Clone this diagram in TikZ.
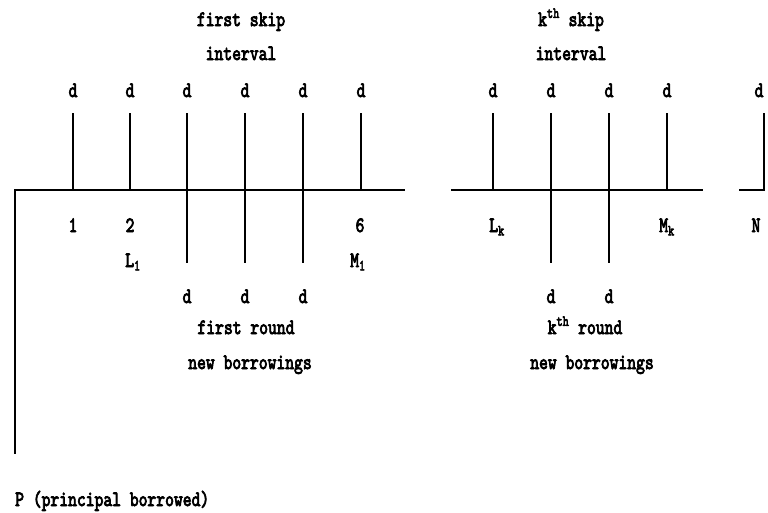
\documentclass[tikz,border=0pt]{standalone}
\usepackage{graphicx}
\usepackage{fontspec}
\newfontfamily\tyf{lmmono10-regular.otf}[FakeBold=4]
\newcommand{\tx}[1]{\scalebox{1}[1.3]{#1}}
\begin{document}
\begin{tikzpicture}[x=1pt,y=-1pt,
  every node/.style={font=\fontsize{16.8}{20}\selectfont\tyf\bfseries, inner sep=0pt},
  lbl/.style={anchor=base},
  ln/.style={line width=1.6pt, line cap=butt}]
\useasboundingbox (0,0) rectangle (768,512);
% main axis, left part
\coordinate (a0) at (14,190);
\coordinate (a1) at (405,190);
\coordinate (v0) at (15,189);
\coordinate (v1) at (15,454);
\draw[ln] (a0) -- (a1);
\draw[ln] (v0) -- (v1);
% right part axis
\coordinate (b0) at (451,190);
\coordinate (b1) at (703,190);
\draw[ln] (b0) -- (b1);
\coordinate (c0) at (739,190);
\coordinate (c1) at (764,190);
\coordinate (c2) at (764,113);
\draw[ln] (c0) -- (c1) -- (c2);
% up ticks
\foreach \n/\x in {u1/73,u2/130,u6/361,uk1/493,uk4/667}{
  \coordinate (\n t) at (\x,113);
  \coordinate (\n b) at (\x,190);
  \draw[ln] (\n t) -- (\n b);
}
% crossing ticks
\foreach \n/\x in {x3/187,x4/245,x5/303,xk2/551,xk3/609}{
  \coordinate (\n t) at (\x,113);
  \coordinate (\n b) at (\x,263);
  \draw[ln] (\n t) -- (\n b);
}
% top d labels
\foreach \n/\x in {d1/73,d2/130,d3/187,d4/245,d5/303,d6/361,dk1/493,dk2/551,dk3/609,dk4/667,dN/759}{
  \node[lbl] (\n) at (\x,97) {\tx{d}};
}
% bottom d labels
\foreach \n/\x in {e3/187,e4/245,e5/303,ek2/551,ek3/609}{
  \node[lbl] (\n) at (\x,303) {\tx{d}};
}
% headings
\node[lbl] (fs) at (241,26) {\tx{first skip}};
\node[lbl] (fi) at (241,60) {\tx{interval}};
\node[lbl] (ks) at (571,26) {\tx{k\textsuperscript{th} skip}};
\node[lbl] (ki) at (571,60) {\tx{interval}};
% numbers and marks
\node[lbl] (n1) at (73,232) {\tx{1}};
\node[lbl] (n2) at (130,232) {\tx{2}};
\node[lbl] (n6) at (360,232) {\tx{6}};
\node[lbl] (L1) at (133,267) {\tx{L\textsubscript{1}}};
\node[lbl] (M1) at (358,267) {\tx{M\textsubscript{1}}};
\node[lbl] (Lk) at (497,232) {\tx{L\textsubscript{k}}};
\node[lbl] (Mk) at (667,232) {\tx{M\textsubscript{k}}};
\node[lbl] (N) at (756,232) {\tx{N}};
% rounds
\node[lbl] (fr) at (246,334) {\tx{first round}};
\node[lbl] (fn) at (250,369) {\tx{new borrowings}};
\node[lbl] (kr) at (585,334) {\tx{k\textsuperscript{th} round}};
\node[lbl] (kn) at (592,369) {\tx{new borrowings}};
% principal
\node[lbl, anchor=base west] (P) at (15,506) {\tx{P (principal borrowed)}};
\end{tikzpicture}
\end{document}
